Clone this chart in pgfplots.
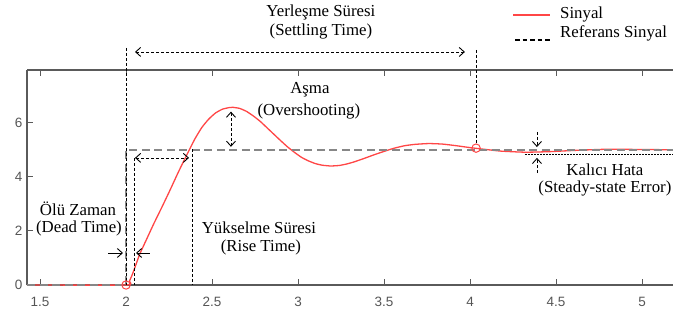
\documentclass[border=0pt]{standalone}
\usepackage{pgfplots}
\pgfplotsset{compat=1.18}
\usepackage{pgfplotstable}
\usepackage{fontspec}
\setmainfont{Liberation Serif}
\newfontfamily\tickfont{Liberation Sans}
\usetikzlibrary{arrows.meta}
\definecolor{sigred}{RGB}{255,70,70}
\definecolor{refgray}{RGB}{135,135,135}
\definecolor{axisgray}{RGB}{90,90,90}
\definecolor{labelgray}{RGB}{85,85,85}

\pgfplotstableread{
t y
1.424 0
2.000 0
2.020 0.15
2.040 0.45
2.060 0.80
2.080 1.15
2.120 1.70
2.160 2.25
2.210 2.90
2.255 3.50
2.300 4.12
2.335 4.58
2.368 5.00
2.400 5.40
2.440 5.82
2.480 6.13
2.520 6.36
2.560 6.50
2.600 6.56
2.620 6.57
2.660 6.53
2.700 6.42
2.740 6.25
2.780 6.05
2.820 5.81
2.860 5.57
2.900 5.33
2.940 5.10
2.980 4.90
3.020 4.72
3.060 4.59
3.100 4.49
3.140 4.43
3.190 4.40
3.240 4.42
3.280 4.47
3.320 4.54
3.380 4.67
3.440 4.81
3.500 4.94
3.560 5.06
3.620 5.15
3.680 5.20
3.760 5.23
3.840 5.21
3.920 5.15
4.000 5.08
4.080 5.02
4.180 4.95
4.320 4.91
4.460 4.93
4.620 4.98
4.800 5.02
5.000 5.01
5.180 5.00
}\signal

\pgfplotstableread{
t y
1.424 0
2.000 0
2.000 5
5.180 5
}\reference

\begin{document}
\begin{tikzpicture}
\path[use as bounding box] (0,0) rectangle (673pt,320pt);
\begin{axis}[
  at={(27pt,35pt)}, anchor=south west,
  scale only axis, width=646pt, height=215pt,
  xmin=1.424, xmax=5.18, ymin=0, ymax=7.95,
  axis x line=box, axis y line*=left,
  tick align=inside,
  xtick={1.5,2,2.5,3,3.5,4,4.5,5},
  ytick={0,2,4,6},
  axis line style={draw=axisgray, line width=1.6pt},
  major tick style={draw=axisgray, line width=1pt},
  major tick length=6pt,
  /pgf/number format/assume math mode=true,
  tick label style={font=\tickfont\fontsize{13.5}{14}\selectfont, text=labelgray},
  xticklabel style={yshift=-9pt},
  yticklabel style={xshift=-1pt},
  clip=false,
]
\addplot[sigred, line width=1.3pt, smooth, tension=0.3] table[x=t,y=y] {\signal};
\addplot[refgray, line width=2.3pt, dash pattern=on 8pt off 4.5pt] table[x=t,y=y] {\reference};
\addplot[only marks, mark=o, mark size=4.2pt, mark options={sigred, line width=1pt}] coordinates {(2,0) (4.035,5.06)};

% annotation lines
\tikzset{ann/.style={black, line width=0.6pt, dash pattern=on 3pt off 2pt},
         tip/.style={Straight Barb[length=5pt,width=9pt,line width=0.9pt]},
         dbl/.style={ann, {Straight Barb[length=5pt,width=9pt,line width=0.9pt]}-{Straight Barb[length=5pt,width=9pt,line width=0.9pt]}},
         one/.style={ann, -{Straight Barb[length=5pt,width=9pt,line width=0.9pt]}}}
% settling time
\draw[ann] (axis cs:2.0,8.765) -- (axis cs:2.0,0);
\draw[ann] (axis cs:4.037,8.69) -- (axis cs:4.037,5.2);
\draw[dbl] (axis cs:2.052,8.617) -- (axis cs:3.970,8.617);
\node[font=\fontsize{16.8}{19}\selectfont] at (axis cs:3.133,10.06) {Yerleşme Süresi};
\node[font=\fontsize{16.8}{19}\selectfont] at (axis cs:3.133,9.356) {(Settling Time)};
% overshoot
\draw[dbl] (axis cs:2.610,6.41) -- (axis cs:2.610,5.11);
\node[font=\fontsize{16.8}{19}\selectfont] at (axis cs:3.069,7.21) {Aşma};
\node[font=\fontsize{16.8}{19}\selectfont] at (axis cs:3.063,6.40) {(Overshooting)};
% dead time
\draw[ann] (axis cs:2.049,4.70) -- (axis cs:2.049,0);
\draw[black, line width=0.6pt, -{Straight Barb[length=5pt,width=9pt,line width=0.9pt]}] (axis cs:1.895,1.183) -- (axis cs:1.982,1.183);
\draw[black, line width=0.6pt, -{Straight Barb[length=5pt,width=9pt,line width=0.9pt]}] (axis cs:2.139,1.183) -- (axis cs:2.058,1.183);
\node[font=\fontsize{16.8}{19}\selectfont] at (axis cs:1.7205,2.81) {Ölü Zaman};
\node[font=\fontsize{16.8}{19}\selectfont] at (axis cs:1.726,2.108) {(Dead Time)};
% rise time
\draw[dbl] (axis cs:2.052,4.70) -- (axis cs:2.366,4.70);
\draw[ann] (axis cs:2.386,5.03) -- (axis cs:2.386,0);
\node[font=\fontsize{16.8}{19}\selectfont] at (axis cs:2.773,2.108) {Yükselme Süresi};
\node[font=\fontsize{16.8}{19}\selectfont] at (axis cs:2.784,1.405) {(Rise Time)};
% steady-state error
\draw[one] (axis cs:4.389,5.66) -- (axis cs:4.389,5.10);
\draw[one] (axis cs:4.389,4.14) -- (axis cs:4.389,4.70);
\draw[black, line width=0.6pt, dash pattern=on 2pt off 1pt] (axis cs:4.319,4.845) -- (axis cs:5.18,4.845);
\node[font=\fontsize{16.8}{19}\selectfont] at (axis cs:4.784,4.253) {Kalıcı Hata};
\node[font=\fontsize{16.8}{19}\selectfont] at (axis cs:4.784,3.55) {(Steady-state Error)};
% legend
\draw[sigred, line width=1.8pt] (axis cs:4.250,9.985) -- (axis cs:4.465,9.985);
\draw[black, line width=1.8pt, dash pattern=on 4.5pt off 3pt] (axis cs:4.262,9.06) -- (axis cs:4.465,9.06);
\node[anchor=west, inner sep=0pt, font=\fontsize{16.8}{19}\selectfont] at (axis cs:4.523,10.02) {Sinyal};
\node[anchor=west, inner sep=0pt, font=\fontsize{16.8}{19}\selectfont] at (axis cs:4.523,9.30) {Referans Sinyal};
\end{axis}
\end{tikzpicture}
\end{document}
